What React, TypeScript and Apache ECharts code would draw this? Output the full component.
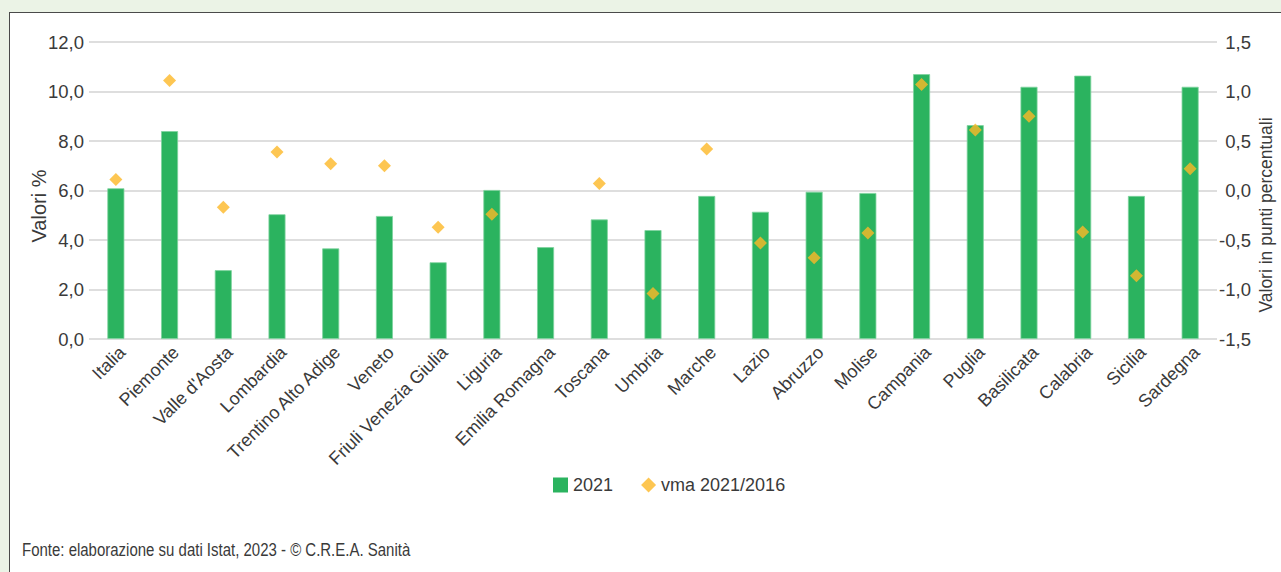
import React, { useEffect, useRef } from "react";
import * as echarts from "echarts";

const categories = [
  "Italia", "Piemonte", "Valle d'Aosta", "Lombardia", "Trentino Alto Adige", "Veneto",
  "Friuli Venezia Giulia", "Liguria", "Emilia Romagna", "Toscana", "Umbria", "Marche",
  "Lazio", "Abruzzo", "Molise", "Campania", "Puglia", "Basilicata", "Calabria", "Sicilia", "Sardegna",
];
const values2021 = [6.09, 8.4, 2.78, 5.04, 3.66, 4.97, 3.1, 6.02, 3.71, 4.83, 4.4, 5.78, 5.14, 5.95, 5.9, 10.7, 8.64, 10.19, 10.64, 5.78, 10.19];
const vma = [0.11, 1.11, -0.17, 0.39, 0.27, 0.25, -0.37, -0.24, null, 0.07, -1.04, 0.42, -0.53, -0.68, -0.43, 1.07, 0.61, 0.75, -0.42, -0.86, 0.22];
const seriesNames = ["2021", "vma 2021/2016"];
const leftAxisName = "Valori %";
const rightAxisName = "Valori in punti percentuali";
const footnote = "Fonte: elaborazione su dati Istat, 2023 - © C.R.E.A. Sanità";

const FONT = "'Liberation Sans', Arial, sans-serif";
const TEXT = "#3a3a3a";
const GREEN = "#2bb35f";
const YELLOW = "#fcb827";

const fmt = (v: number) => v.toFixed(1).replace(".", ",");

export default function App() {
  const ref = useRef<HTMLDivElement>(null);
  useEffect(() => {
    if (!ref.current) return;
    const chart = echarts.init(ref.current, null, { renderer: "svg" });
    chart.setOption({
      animation: false,
      backgroundColor: "transparent",
      textStyle: { fontFamily: FONT, color: TEXT },
      grid: { left: 89, right: 64, top: 42, bottom: 233, containLabel: false },
      legend: {
        left: 548,
        top: 471,
        itemWidth: 15,
        itemHeight: 15,
        itemGap: 28,
        textStyle: { fontFamily: FONT, fontSize: 18, color: TEXT },
        data: [
          { name: seriesNames[0], icon: "rect", itemStyle: { borderWidth: 0 } },
          { name: seriesNames[1], icon: "diamond" },
        ],
      },
      xAxis: {
        type: "category",
        data: categories,
        axisLine: { show: false },
        axisTick: { show: false },
        axisLabel: {
          interval: 0,
          rotate: 45,
          margin: 4,
          verticalAlign: "top",
          fontSize: 18,
          fontFamily: FONT,
          color: TEXT,
        },
      },
      yAxis: [
        {
          type: "value",
          min: 0,
          max: 12,
          interval: 2,
          axisLine: { show: false },
          axisTick: { show: false },
          splitLine: { lineStyle: { color: "#d3d3d3", width: 1.6 } },
          axisLabel: { margin: 5, fontSize: 18.5, fontFamily: FONT, color: TEXT, formatter: fmt },
        },
        {
          type: "value",
          min: -1.5,
          max: 1.5,
          interval: 0.5,
          position: "right",
          axisLine: { show: false },
          axisTick: { show: false },
          splitLine: { show: false },
          axisLabel: {
            margin: 34,
            align: "right",
            fontSize: 18.5,
            fontFamily: FONT,
            color: TEXT,
            formatter: fmt,
          },
        },
      ],
      series: [
        {
          name: seriesNames[0],
          type: "bar",
          data: values2021,
          barWidth: 17,
          itemStyle: { color: GREEN, borderColor: "#7fd39e", borderWidth: 0.8 },
        },
        {
          name: seriesNames[1],
          type: "scatter",
          yAxisIndex: 1,
          data: vma,
          symbol: "diamond",
          symbolSize: 13,
          itemStyle: { color: YELLOW },
          z: 5,
        },
      ],
      graphic: [
        {
          type: "text",
          x: 39,
          y: 206,
          rotation: Math.PI / 2,
          style: {
            text: leftAxisName,
            fontFamily: FONT,
            fontSize: 20,
            fill: TEXT,
            align: "center",
            verticalAlign: "middle",
          },
        },
        {
          type: "text",
          x: 1266,
          y: 215,
          rotation: Math.PI / 2,
          style: {
            text: rightAxisName,
            fontFamily: FONT,
            fontSize: 17.5,
            fill: TEXT,
            align: "center",
            verticalAlign: "middle",
          },
        },
        {
          type: "text",
          x: 22,
          y: 550,
          scaleX: 0.81,
          style: {
            text: footnote,
            fontFamily: FONT,
            fontSize: 18.5,
            fill: TEXT,
            align: "left",
            verticalAlign: "middle",
          },
        },
      ],
    });
    return () => chart.dispose();
  }, []);

  return (
    <div style={{ position: "fixed", left: 0, top: 0, width: 1281, height: 572, background: "#ebf3e6", overflow: "hidden" }}>
      <div
        style={{
          position: "absolute",
          left: 9,
          top: 12,
          width: 1300,
          height: 600,
          background: "#ffffff",
          border: "1px solid #4a4a4a",
        }}
      />
      <div ref={ref} style={{ position: "absolute", left: 0, top: 0, width: 1281, height: 572 }} />
    </div>
  );
}
